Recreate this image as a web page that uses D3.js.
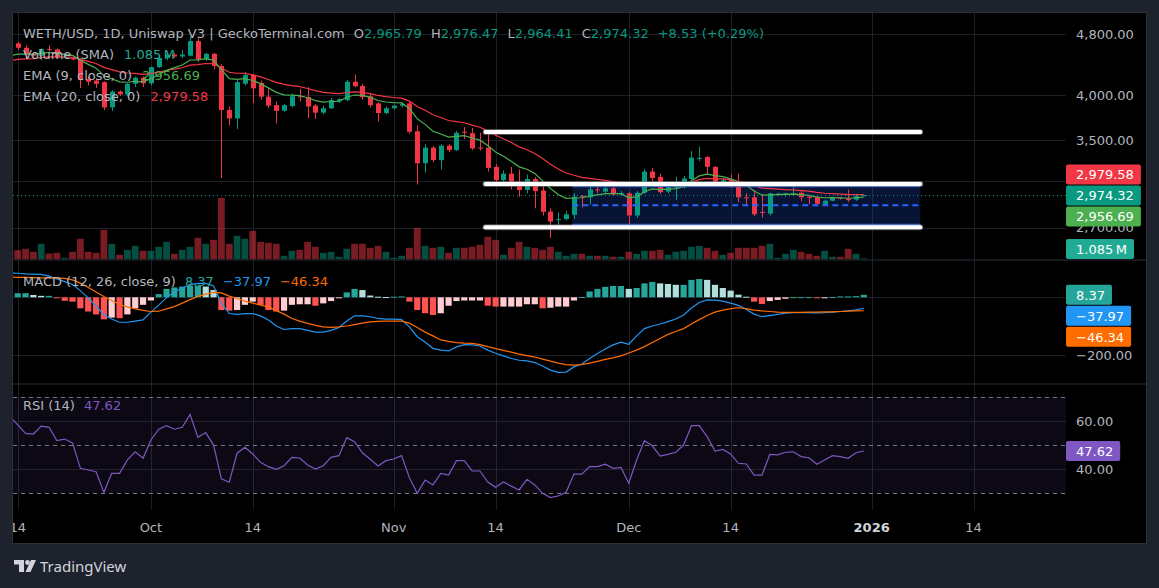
<!DOCTYPE html>
<html lang="en">
<head>
<meta charset="UTF-8">
<title>WETH/USD 1D - Uniswap V3</title>
<script src="https://d3js.org/d3.v7.min.js"></script>
<style>
  body { margin: 0; background: #1e222d; }
  svg text { font-family: "DejaVu Sans", sans-serif; font-size: 13px; }
</style>
</head>
<body>
<svg id="chart" width="1159" height="588"></svg>
<script>
// ---- daily candles, Sep 13 2025 .. Dec 31 2025 ----
const opens = [4720,4668,4608,4525,4500,4590,4585,4470,4480,4450,4200,4180,4160,3860,4045,4010,4140,4215,
  4145,4350,4470,4515,4490,4500,4700,4450,4525,4365,3830,3735,4140,4250,4150,3985,3885,3822,3875,3990,3980,3880,3800,3850,3930,3945,4165,4115,3990,3905,3795,
  3850,3880,3905,3595,3270,3425,3300,3445,3400,3590,3575,3425,3425,3235,3110,3170,3095,3020,3120,3015,2832,2765,2770,2805,2968,2955,3025,3005,3035,2980,
  2990,2800,2995,3190,3140,3005,3035,3045,3120,3318,3330,3235,3090,3120,3050,2955,2955,2830,2815,2985,2978,2985,2995,2960,2955,2892,2925,2952,2945,2935,2965.79];
const highs = [4770,4690,4640,4540,4600,4640,4600,4500,4490,4465,4230,4205,4170,4060,4060,4150,4230,4230,
  4355,4510,4550,4535,4580,4760,4740,4540,4540,4390,3870,4190,4290,4260,4180,4090,3930,3900,4020,4080,4100,3900,3880,3970,3965,4190,4255,4140,4030,3920,3870,
  3890,3920,3920,3660,3460,3440,3460,3460,3600,3640,3630,3580,3575,3260,3200,3235,3210,3160,3140,3050,2860,2825,2840,2990,2975,3050,3060,3086,3045,3010,
  3000,3010,3210,3225,3170,3060,3140,3150,3390,3432,3340,3240,3130,3165,3170,2990,3020,2982,2995,2995,2995,3055,3010,2970,2965,2935,2960,2958,3025,2975,2976.47];
const lows = [4640,4580,4460,4470,4440,4560,4460,4460,4440,4090,4120,4090,3830,3820,3995,3990,4100,4100,
  4120,4340,4440,4470,4470,4490,4420,4430,4320,3130,3660,3620,4120,3910,3950,3850,3680,3810,3860,3930,3740,3730,3780,3840,3910,3930,4100,3950,3860,3700,3780,
  3835,3860,3570,3070,3180,3280,3210,3380,3390,3515,3400,3395,3190,3080,3100,3025,2960,2990,2860,2800,2620,2715,2760,2770,2866,2890,2990,2990,2970,2965,
  2725,2780,2985,3100,2985,2990,2932,3030,3110,3291,3160,3070,3080,3040,2910,2895,2795,2782,2800,2970,2960,2980,2920,2895,2890,2885,2920,2935,2915,2925,2964.41];
const closes = [4668,4608,4525,4500,4590,4585,4470,4480,4450,4185,4165,4140,3860,4045,4012,4140,4215,4145,
  4350,4470,4515,4490,4515,4700,4450,4525,4365,3830,3735,4160,4250,4085,3985,3880,3820,3885,3990,3980,3870,3800,3850,3945,3955,4165,4110,3980,3885,3795,3850,
  3880,3900,3590,3270,3425,3300,3445,3400,3580,3580,3418,3418,3225,3110,3170,3095,3020,3120,3010,2830,2750,2770,2810,2960,2960,3025,3020,3035,2980,2990,
  2800,2995,3190,3130,3000,3045,3045,3125,3325,3322,3235,3090,3110,3045,2955,2950,2810,2825,2990,2988,2990,2990,2955,2950,2898,2925,2955,2948,2930,2965.79,2974.32];
// volume in millions
const volumes = [8,9.3,10.7,7.7,15.7,6,6.7,1.7,7.7,20.7,7.7,6.7,29.7,15.7,4.7,9.7,13.7,8.7,
  8.7,12.7,17.7,5.7,9.7,12.7,21.7,15.7,19.7,61.7,15.7,23.7,20.7,28.7,17.7,16.7,15.7,3.7,8.7,9.7,17.7,12.7,6.7,7.7,2.7,10.7,15.7,15.7,11.7,13.7,7.7,
  1.7,3.7,11.7,31.7,13.7,11.7,12.7,6.7,11.7,11.7,12.7,14.7,22.7,19.7,4.7,11.7,17.7,12.7,11.7,9.7,12.7,7.7,3.7,5.7,5.7,3.7,3.7,3.7,2.7,2.7,
  7.7,5.7,8.7,8.7,9.7,4.7,7.7,8.7,12.7,13.7,11.7,8.7,4.7,6.7,11.7,11.7,11.7,13.7,15.7,1.7,5.7,9.7,7.7,5.7,3.7,8.7,2.7,2.7,10.7,5.7,1.085];
const ema9 = [4500,4522,4522,4518,4532,4543,4528,4519,4505,4441,4386,4337,4241,4202,4164,4159,4170,4165,
  4202,4256,4308,4344,4378,4443,4444,4460,4441,4319,4205,4195,4205,4181,4142,4090,4036,4006,4003,3998,3972,3938,3920,3925,3931,3978,4004,3999,3976,3940,3922,
  3914,3911,3847,3731,3670,3596,3566,3533,3542,3550,3524,3502,3447,3380,3338,3289,3235,3212,3172,3103,3033,2980,2946,2949,2951,2966,2977,2988,2987,2987,
  2950,2959,3005,3030,3024,3028,3032,3050,3105,3149,3166,3151,3143,3123,3090,3062,3011,2974,2977,2979,2981,2983,2978,2972,2957,2951,2952,2951,2947,2951,2956.69];
const ema20 = [4435,4451,4458,4462,4474,4485,4484,4483,4480,4452,4425,4398,4347,4318,4289,4275,4269,4257,
  4266,4285,4307,4324,4342,4376,4383,4397,4394,4340,4284,4272,4269,4252,4226,4193,4158,4132,4118,4105,4083,4056,4036,4027,4020,4034,4041,4035,4021,3999,3985,
  3975,3968,3932,3869,3827,3777,3745,3712,3699,3688,3662,3639,3600,3553,3517,3477,3433,3403,3366,3315,3261,3214,3176,3155,3136,3126,3116,3108,3096,3086,
  3059,3053,3066,3072,3065,3063,3061,3067,3092,3114,3126,3122,3121,3114,3099,3085,3059,3037,3032,3028,3024,3021,3015,3009,2998,2991,2988,2984,2979,2978,2979.58];
// MACD (12, 26, close, 9)
const macdLine = [84,83,81,80,79,73,63,54,44,23,-2,-30,-61,-75,-86,-86,-82,-78,
  -51,-27,-1,18,32,44,48,48,39,-20,-56,-59,-56,-56,-64,-78,-99,-111,-108,-108,-114,-120,-120,-114,-104,-82,-64,-64,-67,-73,-75,
  -75,-77,-102,-136,-154,-176,-182,-185,-171,-163,-164,-168,-182,-193,-202,-211,-217,-219,-225,-237,-251,-259,-258,-240,-230,-211,-194,-178,-164,-155,
  -162,-133,-108,-99,-92,-84,-75,-61,-37,-18,-9,-10,-13,-20,-28,-42,-58,-67,-63,-59,-55,-53,-53,-53,-54,-53,-51,-49,-47,-43,-37.97];
const signalLine = [70,69,69,68,67,67,66,65,60,49,34,18,3,-11,-25,-33,-40,-45,
  -49,-48,-40,-32,-20,-8,3,11,17,15,4,-4,-13,-20,-27,-33,-46,-58,-73,-82,-90,-97,-102,-104,-102,-99,-94,-89,-85,-83,-82,
  -82,-82,-89,-104,-120,-133,-147,-152,-156,-158,-159,-163,-170,-177,-183,-189,-196,-201,-206,-213,-220,-227,-232,-234,-232,-227,-221,-214,-209,-202,
  -192,-182,-170,-156,-142,-128,-118,-108,-92,-77,-63,-51,-44,-39,-36,-39,-44,-47,-49,-51,-52,-52,-52,-51,-51,-50,-50,-49,-48,-47,-46.34];
const histogram = [14,14,14,8,5,5,-3,-12,-15,-38,-49,-59,-76,-70,-72,-59,-38,-26,
  -11,11,29,34,37,40,40,37,25,-44,-46,-44,-26,-15,-26,-44,-49,-46,-26,-24,-24,-29,-21,-13,-3,17,29,25,6,2,1,
  2,3,-15,-44,-55,-61,-55,-29,-13,-11,-11,-11,-29,-32,-32,-32,-32,-24,-24,-38,-36,-32,-32,-11,1,20,29,36,39,39,
  29,32,48,53,48,46,43,43,60,63,60,43,32,23,9,2,-15,-23,-13,-9,-5,0.5,0.5,0.5,-3,-3,1,3,3,4,8.37];
// RSI (14)
const rsi = [62,58.5,55,54.7,58,57.5,52,52.6,51,40.4,39.7,39,30.4,38.3,38.3,43.9,47.3,44.6,
  52.2,56.7,58.2,56.7,57.5,62.9,53.3,55.3,50.1,36,34.6,46.7,49.2,46.4,42.9,41.1,40,41.5,45,44.7,41.8,40.1,41.5,45,45.7,53.2,51.5,46.9,44.2,41.4,43.6,
  44.3,45.7,36.5,30,35.5,33.5,38.3,37.6,43.6,43.6,39.3,39.3,34.7,32.5,34.7,33,31.4,35.8,33.5,30,28.2,28.9,30.4,38,38,41.1,41.1,42.1,40.4,40.8,
  34.2,43.9,51.9,49.8,45.5,46.2,47.1,50.1,58.2,58.2,53.6,47.6,48.3,46.4,42.5,42.2,37.6,37.6,46.2,46,47.1,47.3,45.3,44.8,42.1,43.9,45.7,45.3,44.6,46.9,47.62];

// axis ticks (grid lines) and the tick labels that stay readable
const priceTicks = [4800, 4000, 3500, 3100, 2700];
const priceTickLabels = [4800, 4000, 3500, 2700];
const macdTicks = [0, -200];
const macdTickLabels = [-200];
const rsiTicks = [60, 40];
const rsiBands = [70, 50, 30];
const timeTickDates = ["2025-09-14","2025-10-01","2025-10-14","2025-11-01","2025-11-14","2025-12-01","2025-12-14","2026-01-01","2026-01-14"];
const timeTickLabels = ["14","Oct","14","Nov","14","Dec","14","2026","14"];

// drawings: horizontal rays and a range box
const rayPrices = [3587, 3074, 2703];
const rayStart = "2025-11-12T17:00:00Z", rayEnd = "2026-01-07T05:00:00Z";
const boxTop = 3059, boxMid = 2886, boxBottom = 2720;
const boxStart = "2025-11-23T19:00:00Z", boxEnd = "2026-01-07T05:00:00Z";

const days = d3.utcDay.range(new Date(Date.UTC(2025, 8, 13)), new Date(Date.UTC(2026, 0, 1)));

// ---- layout ----
const L = 13, R = 1066, EDGE = 1146, TOP = 13, BOTTOM = 543;
const mainP = { y0: 13, y1: 259.5 }, macdP = { y0: 260.5, y1: 383.5 }, rsiP = { y0: 384.5, y1: 509.5 };
const C = {
  up: "#089981", down: "#f23645", text: "#b2b5be", grid: "#1c1f27", sep: "#2a2e39",
  ema9: "#4caf50", ema20: "#f23645", macd: "#2196f3", signal: "#ff6d00", rsi: "#7e57c2"
};

const svg = d3.select("#chart");
svg.append("rect").attr("width", 1159).attr("height", 588).attr("fill", "#1e222d");
svg.append("rect").attr("x", L - 0.5).attr("y", TOP - 0.5).attr("width", EDGE - L + 1).attr("height", BOTTOM - TOP + 1)
  .attr("fill", "#000").attr("stroke", "#2a2e39");

const defs = svg.append("defs");
function clip(id, y0, y1) {
  defs.append("clipPath").attr("id", id).append("rect").attr("x", L).attr("y", y0).attr("width", R - L).attr("height", y1 - y0);
  return "url(#" + id + ")";
}
const clipMain = clip("cmain", mainP.y0, mainP.y1);
const clipMacd = clip("cmacd", macdP.y0, macdP.y1);
const clipRsi = clip("crsi", rsiP.y0, rsiP.y1);
defs.append("clipPath").attr("id", "ctime").append("rect").attr("x", L).attr("y", TOP).attr("width", EDGE - L).attr("height", BOTTOM - TOP);

// scales
const x = d3.scaleUtc().domain([new Date(Date.UTC(2025, 8, 14)), new Date(Date.UTC(2026, 0, 14))]).range([17.7, 973.5]);
const yP = d3.scaleLog().domain([2700, 4800]).range([227.7, 34]);
const yV = d3.scaleLinear().domain([0, 62]).range([mainP.y1, 197.5]);
const yM = d3.scaleLinear().domain([-200, 0]).range([355.3, 297.3]);
const yR = d3.scaleLinear().domain([30, 70]).range([493.3, 397.3]);

const fmt = d3.format(",.2f");
const sfmt = v => (v < 0 ? "\u2212" + fmt(-v) : fmt(v));
const px = i => x(days[i]);

// ---- vertical grid ----
const timeTicks = timeTickDates.map(s => new Date(s + "T00:00:00Z"));
svg.append("g").attr("clip-path", "url(#ctime)").selectAll("line").data(timeTicks).join("line")
  .attr("x1", d => Math.round(x(d)) + 0.5).attr("x2", d => Math.round(x(d)) + 0.5)
  .attr("y1", TOP).attr("y2", rsiP.y1).attr("stroke", C.grid);

// ---- main pane ----
const gMain = svg.append("g").attr("clip-path", clipMain);
gMain.selectAll(".hg").data(priceTicks).join("line")
  .attr("x1", L).attr("x2", R).attr("y1", d => Math.round(yP(d)) + 0.5).attr("y2", d => Math.round(yP(d)) + 0.5)
  .attr("stroke", C.grid);

const isUp = i => closes[i] >= opens[i];
gMain.append("g").selectAll("rect").data(volumes).join("rect")
  .attr("x", (d, i) => px(i) - 3.4).attr("width", 6.8)
  .attr("y", d => yV(d)).attr("height", d => mainP.y1 - yV(d))
  .attr("fill", (d, i) => isUp(i) ? C.up : C.down).attr("opacity", 0.5);

// range box fill
gMain.append("rect")
  .attr("x", x(new Date(boxStart))).attr("width", x(new Date(boxEnd)) - x(new Date(boxStart)))
  .attr("y", yP(boxTop)).attr("height", yP(boxBottom) - yP(boxTop))
  .attr("fill", "rgba(41,98,255,0.2)");

// candles
const cg = gMain.append("g").selectAll("g").data(days).join("g");
cg.append("line")
  .attr("x1", (d, i) => Math.round(px(i)) + 0.5).attr("x2", (d, i) => Math.round(px(i)) + 0.5)
  .attr("y1", (d, i) => yP(highs[i])).attr("y2", (d, i) => yP(lows[i]))
  .attr("stroke", (d, i) => isUp(i) ? C.up : C.down);
cg.append("rect")
  .attr("x", (d, i) => Math.round(px(i)) - 2).attr("width", 5)
  .attr("y", (d, i) => yP(Math.max(opens[i], closes[i])))
  .attr("height", (d, i) => Math.max(1, yP(Math.min(opens[i], closes[i])) - yP(Math.max(opens[i], closes[i]))))
  .attr("fill", (d, i) => isUp(i) ? C.up : C.down);

const lineOf = (arr, ys) => d3.line().x((d, i) => px(i)).y(d => ys(d))(arr);
gMain.append("path").attr("d", lineOf(ema20, yP)).attr("fill", "none").attr("stroke", C.ema20).attr("stroke-width", 1.2);
gMain.append("path").attr("d", lineOf(ema9, yP)).attr("fill", "none").attr("stroke", C.ema9).attr("stroke-width", 1.2);

// last price line
const lastClose = closes[closes.length - 1];
gMain.append("line").attr("x1", L).attr("x2", R)
  .attr("y1", Math.round(yP(lastClose)) + 0.5).attr("y2", Math.round(yP(lastClose)) + 0.5)
  .attr("stroke", C.up).attr("stroke-dasharray", "1,3");

// range box borders and rays
const bx0 = x(new Date(boxStart)), bx1 = x(new Date(boxEnd));
[boxTop, boxBottom].forEach(p => {
  gMain.append("line").attr("x1", bx0).attr("x2", bx1).attr("y1", yP(p)).attr("y2", yP(p))
    .attr("stroke", "#2962ff").attr("stroke-width", 3).attr("opacity", 0.95);
});
gMain.append("line").attr("x1", bx0).attr("x2", bx1).attr("y1", yP(boxMid)).attr("y2", yP(boxMid))
  .attr("stroke", "#2962ff").attr("stroke-width", 2).attr("stroke-dasharray", "6,4");
const rx0 = x(new Date(rayStart)), rx1 = x(new Date(rayEnd));
rayPrices.forEach(p => {
  gMain.append("line").attr("x1", rx0).attr("x2", rx1).attr("y1", yP(p)).attr("y2", yP(p))
    .attr("stroke", "#8a8a8a").attr("stroke-width", 6).attr("stroke-linecap", "round").attr("opacity", 0.6);
  gMain.append("line").attr("x1", rx0).attr("x2", rx1).attr("y1", yP(p)).attr("y2", yP(p))
    .attr("stroke", "#ffffff").attr("stroke-width", 4).attr("stroke-linecap", "round");
});

// ---- MACD pane ----
const gMacd = svg.append("g").attr("clip-path", clipMacd);
gMacd.selectAll("line").data(macdTicks).join("line")
  .attr("x1", L).attr("x2", R).attr("y1", d => Math.round(yM(d)) + 0.5).attr("y2", d => Math.round(yM(d)) + 0.5)
  .attr("stroke", C.grid);
const histColor = (h, i) => {
  const prev = i > 0 ? histogram[i - 1] : h;
  if (h >= 0) return h >= prev ? "#26a69a" : "#b2dfdb";
  return h < prev ? "#ff5252" : "#ffcdd2";
};
gMacd.append("g").selectAll("rect").data(histogram).join("rect")
  .attr("x", (d, i) => px(i) - 3.1).attr("width", 6.2)
  .attr("y", d => Math.min(yM(d), yM(0))).attr("height", d => Math.max(1, Math.abs(yM(d) - yM(0))))
  .attr("fill", histColor);
gMacd.append("path").attr("d", lineOf(macdLine, yM)).attr("fill", "none").attr("stroke", C.macd).attr("stroke-width", 1.2);
gMacd.append("path").attr("d", lineOf(signalLine, yM)).attr("fill", "none").attr("stroke", C.signal).attr("stroke-width", 1.2);

// ---- RSI pane ----
const gRsi = svg.append("g").attr("clip-path", clipRsi);
gRsi.append("rect").attr("x", L).attr("width", R - L).attr("y", yR(70)).attr("height", yR(30) - yR(70))
  .attr("fill", "rgba(126,87,194,0.1)");
gRsi.selectAll(".rg").data(rsiTicks).join("line")
  .attr("x1", L).attr("x2", R).attr("y1", d => Math.round(yR(d)) + 0.5).attr("y2", d => Math.round(yR(d)) + 0.5)
  .attr("stroke", "#24222e");
gRsi.selectAll(".rb").data(rsiBands).join("line")
  .attr("x1", L).attr("x2", R).attr("y1", d => Math.round(yR(d)) + 0.5).attr("y2", d => Math.round(yR(d)) + 0.5)
  .attr("stroke", "#787b86").attr("stroke-dasharray", "4,4");
gRsi.append("path").attr("d", lineOf(rsi, yR)).attr("fill", "none").attr("stroke", C.rsi).attr("stroke-width", 1.2);

// pane separators
[260, 384].forEach(y => svg.append("line").attr("x1", L).attr("x2", EDGE).attr("y1", y).attr("y2", y).attr("stroke", C.sep));

// ---- legends ----
function legend(y, parts) {
  let cx = 23;
  const g = svg.append("g");
  parts.forEach(p => {
    cx += p.gap || 0;
    const t = g.append("text").attr("x", cx).attr("y", y).attr("fill", p.c || C.text).text(p.t);
    cx += t.node().getComputedTextLength();
  });
}
const n = closes.length - 1;
const chg = closes[n] - closes[n - 1];
const chgPct = chg / closes[n - 1] * 100;
legend(37.5, [
  { t: "WETH/USD, 1D, Uniswap V3 | GeckoTerminal.com" },
  { t: "O", gap: 9 }, { t: fmt(opens[n]), c: C.up },
  { t: "H", gap: 9 }, { t: fmt(highs[n]), c: C.up },
  { t: "L", gap: 9 }, { t: fmt(lows[n]), c: C.up },
  { t: "C", gap: 9 }, { t: fmt(closes[n]), c: C.up },
  { t: "+" + fmt(chg) + " (+" + chgPct.toFixed(2) + "%)", c: C.up, gap: 9 }
]);
const volText = d3.format(".3f")(volumes[n]) + "\u202fM";
legend(58.5, [{ t: "Volume (SMA)" }, { t: volText, c: "#22ab94", gap: 10 }]);
legend(79.5, [{ t: "EMA (9, close, 0)" }, { t: fmt(ema9[n]), c: C.ema9, gap: 10 }]);
legend(100.5, [{ t: "EMA (20, close, 0)" }, { t: fmt(ema20[n]), c: C.ema20, gap: 10 }]);
legend(285.7, [
  { t: "MACD (12, 26, close, 9)" },
  { t: fmt(histogram[n]), c: "#26a69a", gap: 9 },
  { t: sfmt(macdLine[n]), c: C.macd, gap: 9 },
  { t: sfmt(signalLine[n]), c: C.signal, gap: 9 }
]);
legend(409.5, [{ t: "RSI (14)" }, { t: fmt(rsi[n]), c: C.rsi, gap: 9 }]);

// ---- right price scale ----
const gAxis = svg.append("g");
function tickLabels(ticks, ys, fmtFn) {
  gAxis.selectAll(null).data(ticks).join("text")
    .attr("x", 1076).attr("y", d => ys(d) + 4.7).attr("fill", C.text).text(fmtFn);
}
tickLabels(priceTickLabels, yP, fmt);
tickLabels(macdTickLabels, yM, sfmt);
tickLabels(rsiTicks, yR, fmt);

function stack(labels, mode, y0, y1) {
  const h = 20, gap = 1;
  labels.sort((a, b) => a.y - b.y);
  if (mode === "center") {
    const mean = d3.mean(labels, d => d.y);
    const total = labels.length * h + (labels.length - 1) * gap;
    labels.forEach((d, i) => { d.top = mean - total / 2 + i * (h + gap); });
  } else {
    let prev = -Infinity;
    labels.forEach(d => { d.top = Math.max(d.y - h / 2, prev + gap); prev = d.top + h; });
  }
  labels.forEach(d => { d.top = Math.min(Math.max(d.top, y0), y1 - h); });
  return labels;
}
function valueBoxes(labels) {
  labels.forEach(d => {
    const g = svg.append("g");
    const r = g.append("rect").attr("x", 1066).attr("y", d.top).attr("height", 20).attr("rx", 2).attr("fill", d.color);
    const t = g.append("text").attr("x", 1076).attr("y", d.top + 14.7).attr("fill", "#ffffff").text(d.text);
    r.attr("width", t.node().getComputedTextLength() + 17);
  });
}
valueBoxes(stack([
  { y: yP(ema20[n]), text: fmt(ema20[n]), color: C.down },
  { y: yP(closes[n]), text: fmt(closes[n]), color: C.up },
  { y: yP(ema9[n]), text: fmt(ema9[n]), color: C.ema9 }
], "center", mainP.y0, mainP.y1));
valueBoxes(stack([{ y: yV(volumes[n]), text: volText, color: "#22ab94" }], "push", mainP.y0, mainP.y1 - 0.5));
valueBoxes(stack([
  { y: yM(histogram[n]), text: fmt(histogram[n]), color: "#26a69a" },
  { y: yM(macdLine[n]), text: sfmt(macdLine[n]), color: C.macd },
  { y: yM(signalLine[n]), text: sfmt(signalLine[n]), color: C.signal }
], "push", macdP.y0, macdP.y1));
valueBoxes(stack([{ y: yR(rsi[n]), text: fmt(rsi[n]), color: C.rsi }], "push", rsiP.y0, rsiP.y1));

// ---- time axis ----
svg.append("g").attr("clip-path", "url(#ctime)").selectAll("text").data(timeTicks).join("text")
  .attr("x", d => x(d)).attr("y", 531.5).attr("text-anchor", "middle")
  .attr("fill", (d, i) => timeTickLabels[i] === "2026" ? "#d1d4dc" : C.text)
  .attr("font-weight", (d, i) => timeTickLabels[i] === "2026" ? "bold" : null)
  .text((d, i) => timeTickLabels[i]);

// ---- TradingView logo ----
const logo = svg.append("g").attr("fill", "#d1d4dc");
logo.append("path").attr("d", "M14 560h10v12h-5v-7.5h-5z");
logo.append("circle").attr("cx", 27.5).attr("cy", 562.5).attr("r", 2.4);
logo.append("path").attr("d", "M31 560h5l-5.5 12h-5z");
logo.append("text").attr("x", 40).attr("y", 572).attr("fill", "#d1d4dc")
  .style("font-family", "'Noto Sans', sans-serif").style("font-size", "15px").text("TradingView");
</script>
</body>
</html>
